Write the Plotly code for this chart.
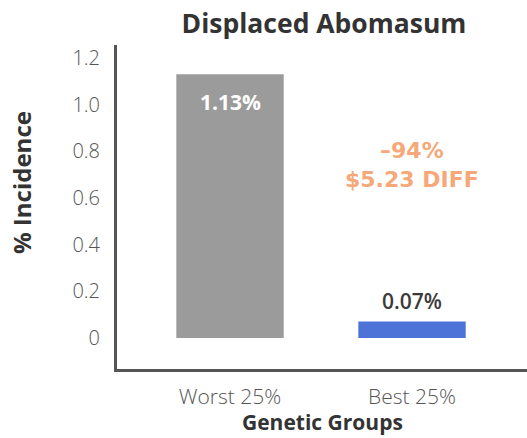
import plotly.graph_objects as go

# Chart data
groups = ["Worst 25%", "Best 25%"]
incidence = [1.13, 0.07]
bar_labels = ["1.13%", "0.07%"]
bar_colors = ["#9b9b9b", "#4d72d8"]
y_ticks = [0, 0.2, 0.4, 0.6, 0.8, 1.0, 1.2]
y_tick_text = ["0", "0.2", "0.4", "0.6", "0.8", "1.0", "1.2"]
diff_lines = ["\u201394%", "$5.23 DIFF"]

W, H = 527, 438
L, R, T, B = 117, 0, 45, 69
plot_w = W - L - R
plot_h = H - T - B


def px_x(px):
    return (px - L) / plot_w


def px_y(py):
    return (H - B - py) / plot_h


fig = go.Figure(
    go.Bar(
        x=groups,
        y=incidence,
        marker=dict(color=bar_colors, line=dict(width=0)),
        width=0.59,
        hoverinfo="skip",
    )
)

FONT = "Open Sans"
dark = "#333333"

# value label inside the tall bar
fig.add_annotation(
    x=groups[0], y=incidence[0], yref="y", xref="x",
    text="<b>" + bar_labels[0] + "</b>", showarrow=False,
    yanchor="top", yshift=-12,
    font=dict(family=FONT, size=21, color="white"),
)
# value label above the short bar
fig.add_annotation(
    x=groups[1], y=incidence[1], yref="y", xref="x",
    text=bar_labels[1], showarrow=False,
    yanchor="bottom", yshift=5,
    font=dict(family=FONT, size=21, color="#3a3a3a", weight=600),
)
# difference callout
fig.add_annotation(
    x=groups[1], xref="x", y=px_y(165), yref="paper",
    text="<br>".join(diff_lines), showarrow=False,
    align="center", yanchor="middle",
    font=dict(family="DejaVu Sans", size=22, color="#f6a878", weight="bold"),
)
# axis titles
fig.add_annotation(
    x=px_x(322), xref="paper", y=0 - B / plot_h, yref="paper",
    text="<b>Genetic Groups</b>", showarrow=False, yanchor="bottom",
    font=dict(family=FONT, size=21, color=dark),
)
fig.add_annotation(
    x=px_x(21), xref="paper", y=px_y(183), yref="paper",
    text="<b>% Incidence</b>", showarrow=False, textangle=-90,
    xanchor="center", yanchor="middle",
    font=dict(family=FONT, size=24, color=dark),
)

fig.update_layout(
    width=W, height=H,
    margin=dict(l=L, r=R, t=T, b=B),
    paper_bgcolor="white", plot_bgcolor="white",
    showlegend=False,
    title=dict(
        text="<b>Displaced Abomasum</b>",
        x=324 / W, xanchor="center",
        y=1 - 24 / H, yanchor="middle", yref="container",
        font=dict(family=FONT, size=26.5, color=dark),
    ),
    xaxis=dict(
        range=[-0.621, -0.621 + plot_w / 182],
        showline=True, linewidth=3, linecolor="#555555",
        ticks="outside", ticklen=7, tickcolor="rgba(0,0,0,0)",
        tickfont=dict(family=FONT, size=21, color="#555555", weight=300),
        showgrid=False, zeroline=False, fixedrange=True,
    ),
    yaxis=dict(
        range=[-0.133, 1.255],
        tickvals=y_ticks, ticktext=y_tick_text,
        showline=True, linewidth=3, linecolor="#555555",
        ticks="outside", ticklen=10, tickcolor="rgba(0,0,0,0)",
        tickfont=dict(family=FONT, size=20, color="#555555", weight=300),
        showgrid=False, zeroline=False, fixedrange=True,
    ),
)

fig.write_html("out.html")
